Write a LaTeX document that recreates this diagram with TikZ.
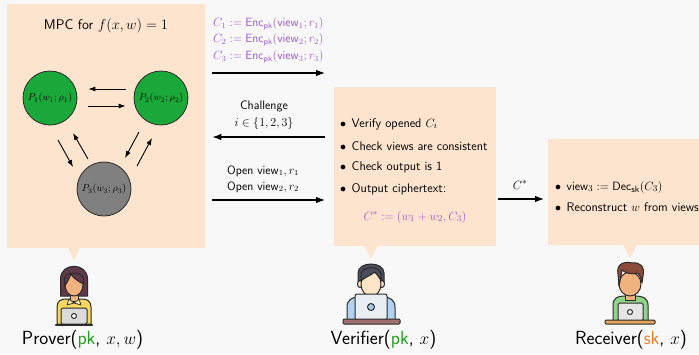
\documentclass[tikz,border=0pt]{standalone}
\usetikzlibrary{arrows.meta,calc}

\definecolor{bg}{HTML}{F8F8F8}
\definecolor{boxfill}{HTML}{FDE4CE}
\definecolor{mpcgreen}{HTML}{1BA83B}
\definecolor{mpcgray}{HTML}{808080}
\definecolor{encpurple}{HTML}{9A55C8}
\definecolor{pkgreen}{HTML}{22A022}
\definecolor{skorange}{HTML}{E8822A}
\definecolor{ink}{HTML}{2A2A2A}
\definecolor{skintan}{HTML}{F2B27E}
\definecolor{skinlight}{HTML}{FCE4C6}
\definecolor{hairplum}{HTML}{5E3A48}
\definecolor{hairgray}{HTML}{4A4E5A}
\definecolor{hairbrown}{HTML}{8C4B3A}
\definecolor{shirtyellow}{HTML}{F6D860}
\definecolor{shirtblue}{HTML}{B3D2F0}
\definecolor{shirtgreen}{HTML}{90D48B}
\definecolor{lapgray}{HTML}{DADADA}
\definecolor{laplight}{HTML}{E9EEF3}
\definecolor{logoblue}{HTML}{A9CBEA}
\definecolor{deskmauve}{HTML}{A07070}
\definecolor{desktan}{HTML}{E2A65C}

\newcommand{\Enc}{\mathsf{Enc}_{\mathsf{pk}}}
\newcommand{\Dec}{\mathsf{Dec}_{\mathsf{sk}}}
\newcommand{\vw}{\mathsf{view}}

\tikzset{
  bubble/.style={fill=boxfill, draw=none, anchor=north west, inner sep=0pt},
  party/.style={circle, draw=ink, line width=0.8pt, minimum size=54pt, inner sep=0pt,
    font=\fontsize{10}{12}\selectfont},
  msg/.style={line width=1.1pt, -{Latex[length=9pt,width=6.5pt]}},
  ring/.style={line width=0.9pt, -{Latex[length=7pt,width=5pt]}},
  txt/.style={inner sep=0pt, font=\sffamily\fontsize{12.5}{15}\selectfont},
  lbl/.style={inner sep=0pt, font=\sffamily\fontsize{19}{22}\selectfont},
  icon/.style={draw=ink, line width=1pt, line join=round},
}

\begin{document}
\begin{tikzpicture}[x=1pt,y=-1pt]
\useasboundingbox (0,0) rectangle (699,354);
\fill[bg] (0,0) rectangle (699,354);

% speech bubbles
\node[bubble, minimum width=198pt, minimum height=244pt] (pbox) at (7,4) {};
\fill[boxfill] ($(pbox.south west)+(61,-1)$) -- ($(pbox.south west)+(67,12)$) -- ($(pbox.south west)+(73,-1)$) -- cycle;
\node[bubble, minimum width=162pt, minimum height=159pt] (vbox) at (334,87) {};
\fill[boxfill] ($(vbox.south west)+(30,-1)$) -- ($(vbox.south west)+(37,12)$) -- ($(vbox.south west)+(44,-1)$) -- cycle;
\node[bubble, minimum width=160pt, minimum height=106pt] (rbox) at (548,139) {};
\fill[boxfill] ($(rbox.south west)+(75,-1)$) -- ($(rbox.south west)+(82,13)$) -- ($(rbox.south west)+(89,-1)$) -- cycle;

% MPC in the head
\node[txt, font=\sffamily\fontsize{14}{16}\selectfont] (mpc) at (106,26) {MPC for $f(x,w)=1$};
\node[party, fill=mpcgreen] (p1) at (50,98) {$P_1(w_1;\rho_1)$};
\node[party, fill=mpcgreen] (p2) at (161,98) {$P_2(w_2;\rho_2)$};
\node[party, fill=mpcgray] (p3) at (104,189) {$P_3(w_3;\rho_3)$};

\draw[ring] ($(p2.west)+(-8,-9)$) -- ($(p1.east)+(11,-9)$);
\draw[ring] ($(p1.east)+(11,8)$) -- ($(p2.west)+(-8,8)$);
\draw[ring] ($(p1)+(8,42)$) -- ($(p1)+(23,69)$);
\draw[ring] ($(p3)+(-16,-30)$) -- ($(p3)+(-31,-56)$);
\draw[ring] ($(p2)+(-22,34)$) -- ($(p2)+(-36,60)$);
\draw[ring] ($(p3)+(33,-23)$) -- ($(p3)+(48,-51)$);

% messages between prover and verifier
\coordinate (m1) at (0,73);
\coordinate (m2) at (0,137);
\coordinate (m3) at (0,200);
\coordinate (m4) at (0,199);
\node[txt, anchor=west, text=encpurple, align=left, font=\sffamily\fontsize{11.5}{16.5}\selectfont] (commit) at (213,40)
  {$C_1 := \Enc(\vw_1; r_1)$\\ $C_2 := \Enc(\vw_2; r_2)$\\ $C_3 := \Enc(\vw_3; r_3)$};
\draw[msg] ($(pbox.east |- m1)+(7,0)$) -- ($(vbox.west |- m1)+(-9,0)$);

\node[txt, align=center, font=\sffamily\fontsize{12.2}{17}\selectfont] (chal) at (264,115) {Challenge\\ $i\in\{1,2,3\}$};
\draw[msg] ($(vbox.west |- m2)+(-9,0)$) -- ($(pbox.east |- m2)+(7,0)$);

\node[txt, anchor=west, align=left, font=\sffamily\fontsize{12}{16}\selectfont] (open) at (227,179) {Open $\vw_1, r_1$\\ Open $\vw_2, r_2$};
\draw[msg] ($(pbox.east |- m3)+(7,0)$) -- ($(vbox.west |- m3)+(-9,0)$);

% verifier checks
\node[txt, anchor=west] (v1) at (340,124) {$\bullet$\hspace{5.5pt}Verify opened $C_i$};
\node[txt, anchor=west] (v2) at (340,146) {$\bullet$\hspace{5.5pt}Check views are consistent};
\node[txt, anchor=west] (v3) at (340,167) {$\bullet$\hspace{5.5pt}Check output is 1};
\node[txt, anchor=west] (v4) at (340,189) {$\bullet$\hspace{5.5pt}Output ciphertext:};
\node[txt, text=encpurple] (cstar) at (415,217) {$C^{*} := (w_1+w_2, C_3)$};

% forwarding to the receiver
\draw[msg] ($(vbox.east |- m4)+(2,0)$) -- ($(rbox.west |- m4)+(-4,0)$);
\node[txt] (cl) at (520,185) {$C^{*}$};

\node[txt, anchor=west] (r1) at (555,187) {$\bullet$\hspace{5.5pt}$\vw_3 := \Dec(C_3)$};
\node[txt, anchor=west] (r2) at (555,207) {$\bullet$\hspace{5.5pt}Reconstruct $w$ from views};

% prover icon
\filldraw[icon, fill=hairplum] (60.5,296) -- (60.5,279) .. controls (60.5,262) and (87.5,262) .. (87.5,279) -- (87.5,296) -- cycle;
\filldraw[icon, fill=shirtyellow] (57,324) -- (57,307) .. controls (57,301) and (61,299) .. (66,299) -- (82,299) .. controls (87,299) and (91,301) .. (91,307) -- (91,324) -- cycle;
\filldraw[icon, fill=skintan] (70,292) rectangle (78,301);
\filldraw[icon, fill=shirtyellow!60!white, line width=0.7pt] (69,299) -- (74,303) -- (67,305) -- cycle;
\filldraw[icon, fill=shirtyellow!60!white, line width=0.7pt] (79,299) -- (74,303) -- (81,305) -- cycle;
\filldraw[icon, fill=skintan] (74,285) ellipse [x radius=9pt, y radius=11pt];
\filldraw[icon, fill=hairplum] (64.5,286) -- (64.5,279) .. controls (65,271) and (83,271) .. (83.5,279) -- (83.5,284) .. controls (79,282) and (73,278) .. (71,274) .. controls (69,279) and (67,283) .. (64.5,286) -- cycle;
\filldraw[icon, fill=lapgray, rounded corners=1.5pt] (61,308) rectangle (87,324);
\filldraw[icon, fill=white] (74,316) circle [radius=2.5pt];
\draw[ink, line width=2.5pt, line cap=round] (56,325) -- (92,325);

% verifier icon
\filldraw[icon, fill=shirtblue] (347,322) -- (347,307) .. controls (347,300) and (352,297) .. (359,297) -- (383,297) .. controls (390,297) and (395,300) .. (395,307) -- (395,322) -- cycle;
\filldraw[icon, fill=skinlight] (366,292) rectangle (376,299);
\filldraw[icon, fill=hairgray] (358,285) -- (358,273) .. controls (358,261) and (384,261) .. (384,273) -- (384,285) -- cycle;
\filldraw[icon, fill=skinlight] (360,284) ellipse [x radius=2.5pt, y radius=3.5pt];
\filldraw[icon, fill=skinlight] (382,284) ellipse [x radius=2.5pt, y radius=3.5pt];
\filldraw[icon, fill=skinlight] (371,284) ellipse [x radius=10pt, y radius=12.5pt];
\filldraw[icon, fill=hairgray] (361,281) -- (361,274) .. controls (362,266) and (380,265) .. (381,274) -- (381,280) .. controls (378,276) and (376,273) .. (375,272) .. controls (370,276) and (365,277) .. (361,281) -- cycle;
\filldraw[icon, fill=laplight, rounded corners=2pt] (355,294) rectangle (387,320);
\filldraw[icon, fill=logoblue] (371,307) circle [radius=3.5pt];
\filldraw[icon, fill=deskmauve, rounded corners=1pt] (343,319) rectangle (400,324);

% receiver icon
\filldraw[icon, fill=shirtgreen] (613,323) -- (613,305) .. controls (613,298) and (618,296) .. (624,296) -- (636,296) .. controls (642,296) and (648,298) .. (648,305) -- (648,323) -- cycle;
\filldraw[icon, fill=skintan] (625,292) rectangle (635,300);
\filldraw[icon, fill=skintan] (630,284) ellipse [x radius=11pt, y radius=12pt];
\filldraw[icon, fill=hairbrown] (619,286) -- (618,274) .. controls (616,264) and (624,261) .. (632,263) .. controls (640,262) and (645,266) .. (643,276) -- (642,283) .. controls (641,278) and (640,275) .. (638,273) .. controls (632,275) and (625,273) .. (622,270) .. controls (621,276) and (620,281) .. (619,286) -- cycle;
\filldraw[icon, fill=lapgray!70!white, rounded corners=1.5pt] (618,303) rectangle (643,321);
\filldraw[icon, fill=white] (630,312) circle [radius=2.5pt];
\filldraw[icon, fill=desktan, rounded corners=1pt] (605,320) rectangle (655,324);

% party names
\node[lbl] (prover) at (82.5,340) {Prover(\textcolor{pkgreen}{pk}, $x, w$)};
\node[lbl] (verifier) at (383.5,340) {Verifier(\textcolor{pkgreen}{pk}, $x$)};
\node[lbl] (receiver) at (631,340) {Receiver(\textcolor{skorange}{sk}, $x$)};
\end{tikzpicture}
\end{document}
